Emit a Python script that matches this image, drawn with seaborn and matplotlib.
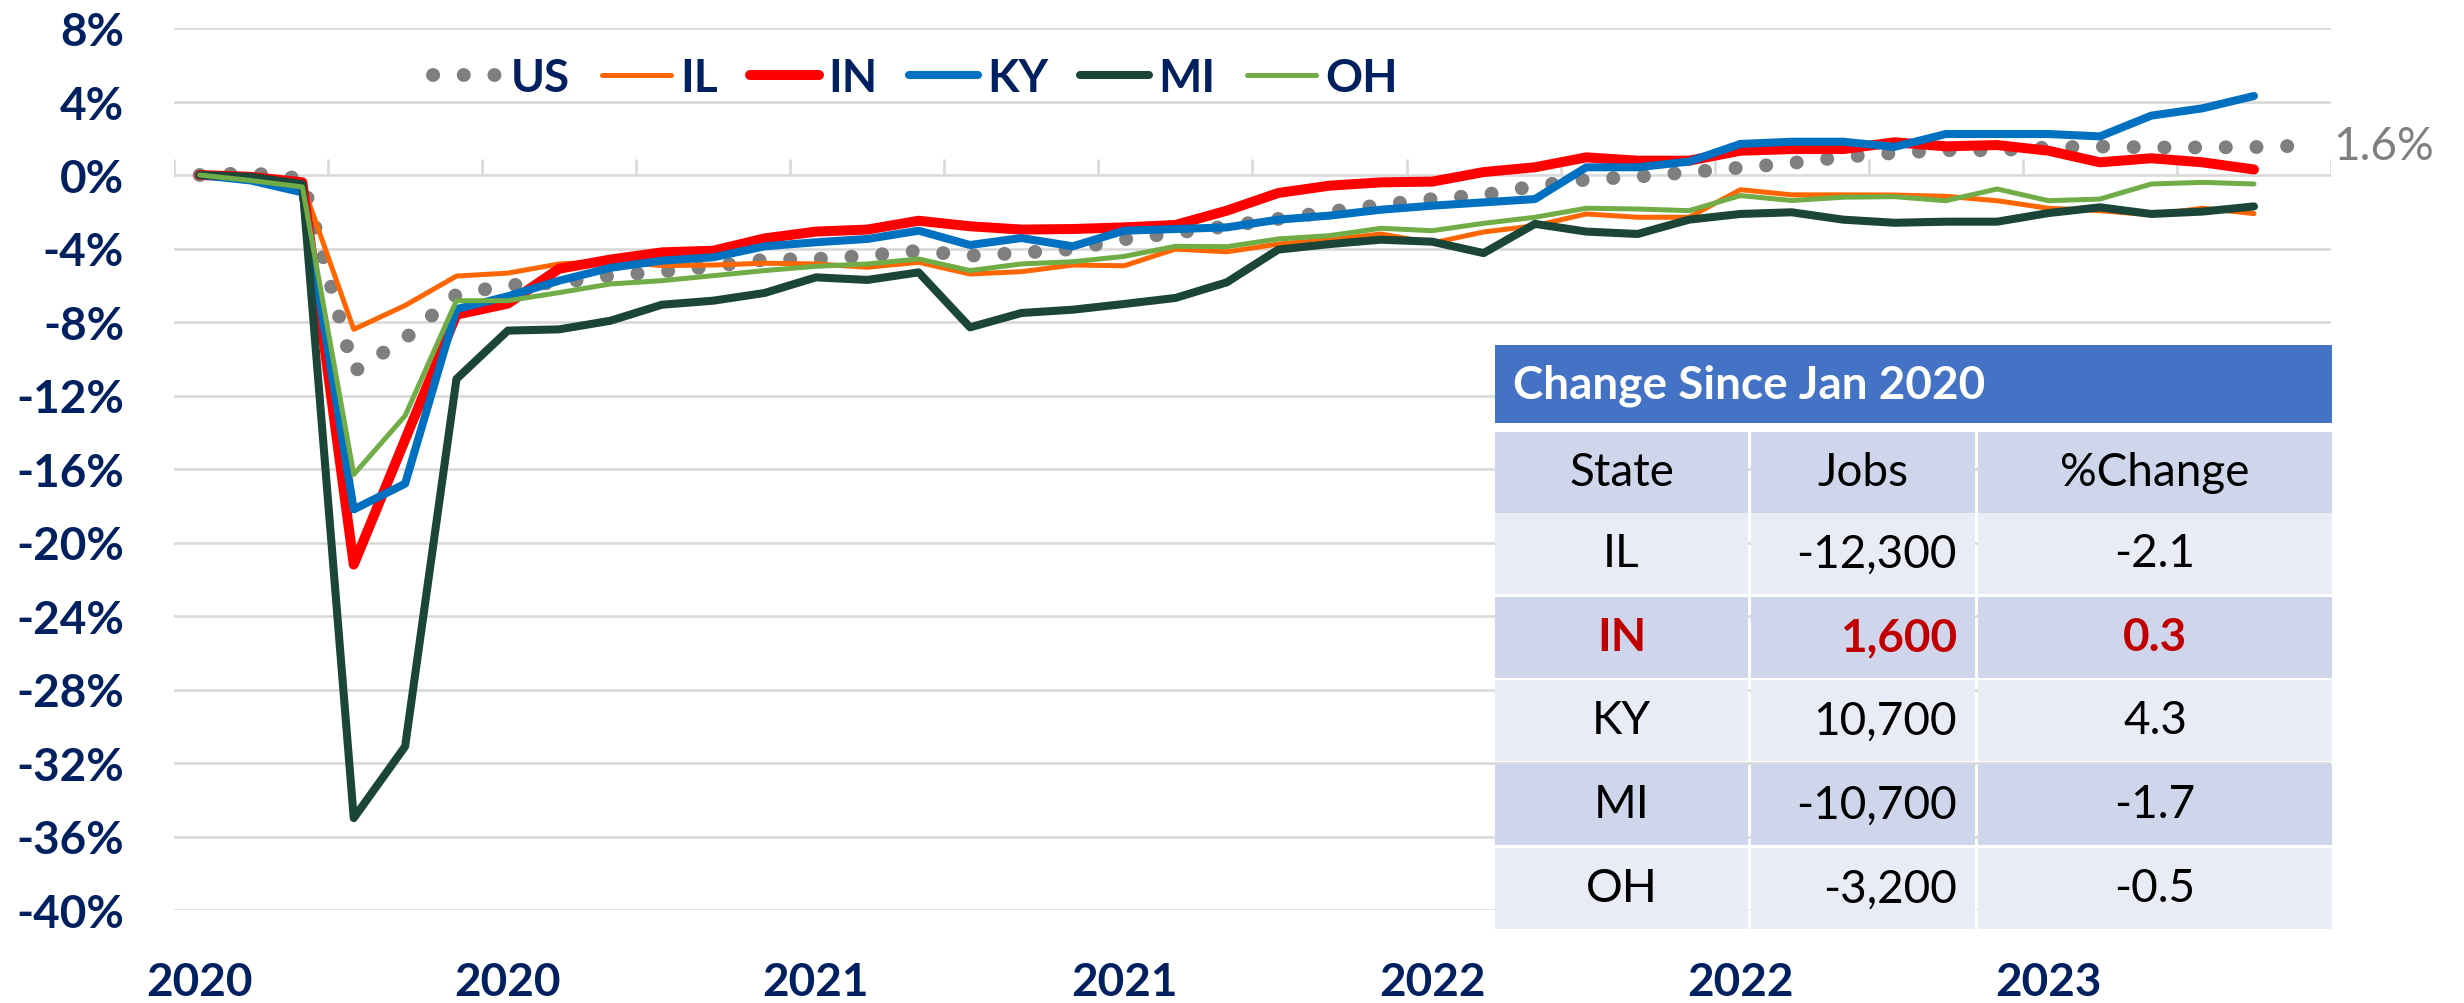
import numpy as np
import pandas as pd
import matplotlib
matplotlib.use("Agg")
import matplotlib.pyplot as plt
import seaborn as sns
from matplotlib.patches import Rectangle
from matplotlib.ticker import FuncFormatter

# ---------------- data (percent change since Jan 2020, monthly) ----------------
us = [0.0, 0.1, -0.2, -10.7, -8.9, -6.5, -6.0, -5.86, -5.48, -5.26, -4.97, -4.61,
      -4.57, -4.39, -4.12, -4.39, -4.24, -4.03, -3.5, -3.15, -2.79, -2.39, -2.0, -1.63,
      -1.31, -1.09, -0.6, -0.25, -0.09, 0.15, 0.40, 0.65, 0.98, 1.2, 1.35, 1.35,
      1.5, 1.55, 1.5, 1.5, 1.52, 1.6]
il = [0.0, -0.1, -0.5, -8.4, -7.1, -5.5, -5.34, -4.84, -4.7, -4.93, -4.9, -4.8,
      -4.84, -5.02, -4.75, -5.39, -5.26, -4.9, -4.94, -4.03, -4.18, -3.76, -3.52, -3.21,
      -3.7, -3.1, -2.76, -2.12, -2.3, -2.3, -0.8, -1.08, -1.08, -1.09, -1.16, -1.4,
      -1.81, -1.94, -2.17, -1.81, -2.1]
ind = [0.0, -0.1, -0.4, -21.2, -14.4, -7.6, -7.0, -5.1, -4.6, -4.21, -4.12, -3.45,
       -3.08, -2.97, -2.49, -2.79, -2.97, -2.94, -2.85, -2.72, -1.94, -0.98, -0.58, -0.4,
       -0.36, 0.16, 0.42, 0.96, 0.78, 0.78, 1.32, 1.41, 1.41, 1.78, 1.56, 1.63,
       1.32, 0.69, 0.91, 0.69, 0.3]
ky = [0.0, -0.3, -0.95, -18.2, -16.8, -7.3, -6.6, -5.75, -5.05, -4.66, -4.48, -3.88,
      -3.66, -3.48, -3.03, -3.81, -3.43, -3.88, -3.03, -2.94, -2.85, -2.43, -2.21, -1.89,
      -1.67, -1.49, -1.31, 0.42, 0.42, 0.73, 1.69, 1.81, 1.81, 1.53, 2.23, 2.23,
      2.23, 2.1, 3.23, 3.63, 4.3]
mi = [0.0, -0.1, -0.5, -35.0, -31.1, -11.1, -8.47, -8.4, -7.93, -7.06, -6.84, -6.42,
      -5.57, -5.71, -5.3, -8.29, -7.51, -7.33, -7.02, -6.69, -5.84, -4.06, -3.76, -3.52,
      -3.63, -4.25, -2.66, -3.08, -3.21, -2.43, -2.12, -2.03, -2.43, -2.6, -2.54, -2.54,
      -2.07, -1.76, -2.12, -1.99, -1.71]
oh = [0.0, -0.3, -0.65, -16.3, -13.1, -6.84, -6.84, -6.4, -5.93, -5.75, -5.48, -5.2,
      -4.97, -4.84, -4.57, -5.2, -4.84, -4.72, -4.43, -3.88, -3.9, -3.48, -3.3, -2.9,
      -3.03, -2.63, -2.3, -1.81, -1.85, -1.94, -1.12, -1.39, -1.21, -1.18, -1.4, -0.76,
      -1.4, -1.31, -0.49, -0.4, -0.49]

year_labels = ["2020", "2020", "2021", "2021", "2022", "2022", "2023"]
year_label_months = [0, 6, 12, 18, 24, 30, 36]
n_months = 42
y_ticks = list(range(-40, 9, 4))

table_title = "Change Since Jan 2020"
table_header = ["State", "Jobs", "%Change"]
table_states = ["IL", "IN", "KY", "MI", "OH"]
table_jobs = ["-12,300", "1,600", "10,700", "-10,700", "-3,200"]
table_pct = ["-2.1", "0.3", "4.3", "-1.7", "-0.5"]
highlight_state = "IN"

# ---------------- style ----------------
sns.set_style("white")
plt.rcParams["font.family"] = ["Lato", "DejaVu Sans"]
NAVY = "#002060"
GRID = "#D9D9D9"
FS = 33
DOTS = (0, (0.01, 2.2))

fig = plt.figure(figsize=(24.64, 10.04), dpi=100)
ax = fig.add_axes([174 / 2464, 1 - 911 / 1004, (2331 - 174) / 2464, (911 - 29) / 1004])

series = [
    ("US", us, "#7F7F7F", 10.0),
    ("IL", il, "#FF6600", 3.6),
    ("IN", ind, "#FF0000", 7.2),
    ("KY", ky, "#0070C0", 5.8),
    ("MI", mi, "#1A4538", 5.8),
    ("OH", oh, "#70AD47", 3.6),
]

for name, vals, color, lw in series:
    df = pd.DataFrame({"month": np.arange(len(vals)), "value": vals})
    if name == "US":
        sns.lineplot(data=df, x="month", y="value", ax=ax, color=color, linewidth=lw,
                     label=name, zorder=3)
        ln = ax.lines[-1]
        ln.set_linestyle(DOTS)
        ln.set_dash_capstyle("round")
    else:
        sns.lineplot(data=df, x="month", y="value", ax=ax, color=color, linewidth=lw,
                     label=name, solid_capstyle="round", solid_joinstyle="round",
                     zorder=3)

ax.set_xlim(-0.5, n_months - 0.5)
ax.set_ylim(-40, 8)
for s in ax.spines.values():
    s.set_visible(False)

ax.set_yticks(y_ticks)
ax.yaxis.set_major_formatter(FuncFormatter(lambda v, p: f"{v:.0f}%"))
ax.yaxis.grid(True, color=GRID, linewidth=1.9)
ax.xaxis.grid(False)
ax.set_axisbelow(True)
ax.tick_params(axis="y", length=0, pad=36, labelsize=FS, labelcolor=NAVY)
for lbl in ax.get_yticklabels():
    lbl.set_fontweight("bold")

ax.set_xticks(year_label_months)
ax.set_xticklabels(year_labels)
ax.tick_params(axis="x", length=0, pad=37, labelsize=FS, labelcolor=NAVY)
for lbl in ax.get_xticklabels():
    lbl.set_fontweight("bold")
ax.set_xlabel("")
ax.set_ylabel("")

# category tick marks on the 0% axis line (every 3 months)
ax.vlines(np.arange(-0.5, n_months, 3), 0, 0.87, color=GRID, linewidth=1.9, zorder=1)

# legend
handles, labels = ax.get_legend_handles_labels()
leg = ax.legend(handles, labels, loc="center", bbox_to_anchor=(0.3438, 0.943), ncol=6,
                frameon=False, prop={"weight": "bold", "size": FS}, labelcolor=NAVY,
                handlelength=1.5, handletextpad=0.2, columnspacing=0.7)
for h, lab in zip(leg.get_lines(), labels):
    if lab == "US":
        h.set_linestyle(DOTS)
        h.set_dash_capstyle("round")

# end label for US
ax.annotate(f"{us[-1]:.1f}%", xy=(len(us) - 1, us[-1]), xytext=(20, 0),
            textcoords="offset points", ha="left", va="center", fontsize=FS,
            color="#7F7F7F", annotation_clip=False)

# ---------------- table overlay ----------------
tax = fig.add_axes([0, 0, 1, 1])
tax.set_xlim(0, 2464)
tax.set_ylim(1004, 0)
tax.axis("off")
tax.set_zorder(5)

x0, x1 = 1495, 2332
col_edges = [(1495, 1748), (1751, 1975), (1978, 2332)]
tax.add_patch(Rectangle((x0, 346), x1 - x0, 78, color="#4472C4", lw=0))
tax.text(1513, 386, table_title, color="white", fontsize=FS, fontweight="bold",
         ha="left", va="center")

row_tops = [433, 514, 598, 681, 765, 849]
row_h = 81
DARK, LIGHT = "#CFD5EA", "#E9EBF5"
rows = [table_header] + [[s, j, p] for s, j, p in zip(table_states, table_jobs, table_pct)]
for r, (top, cells) in enumerate(zip(row_tops, rows)):
    fill = DARK if r % 2 == 0 else LIGHT
    hl = (r > 0 and cells[0] == highlight_state)
    color = "#C00000" if hl else "black"
    weight = "bold" if hl else "normal"
    yc = top + row_h / 2
    for c, ((cx0, cx1), txt) in enumerate(zip(col_edges, cells)):
        tax.add_patch(Rectangle((cx0, top), cx1 - cx0, row_h, color=fill, lw=0))
        if c == 1 and r > 0:
            tax.text(1957, yc, txt, ha="right", va="center", fontsize=FS,
                     color=color, fontweight=weight)
        else:
            tax.text((cx0 + cx1) / 2, yc, txt, ha="center", va="center", fontsize=FS,
                     color=color, fontweight=weight)

fig.savefig("out.png", dpi=100)
